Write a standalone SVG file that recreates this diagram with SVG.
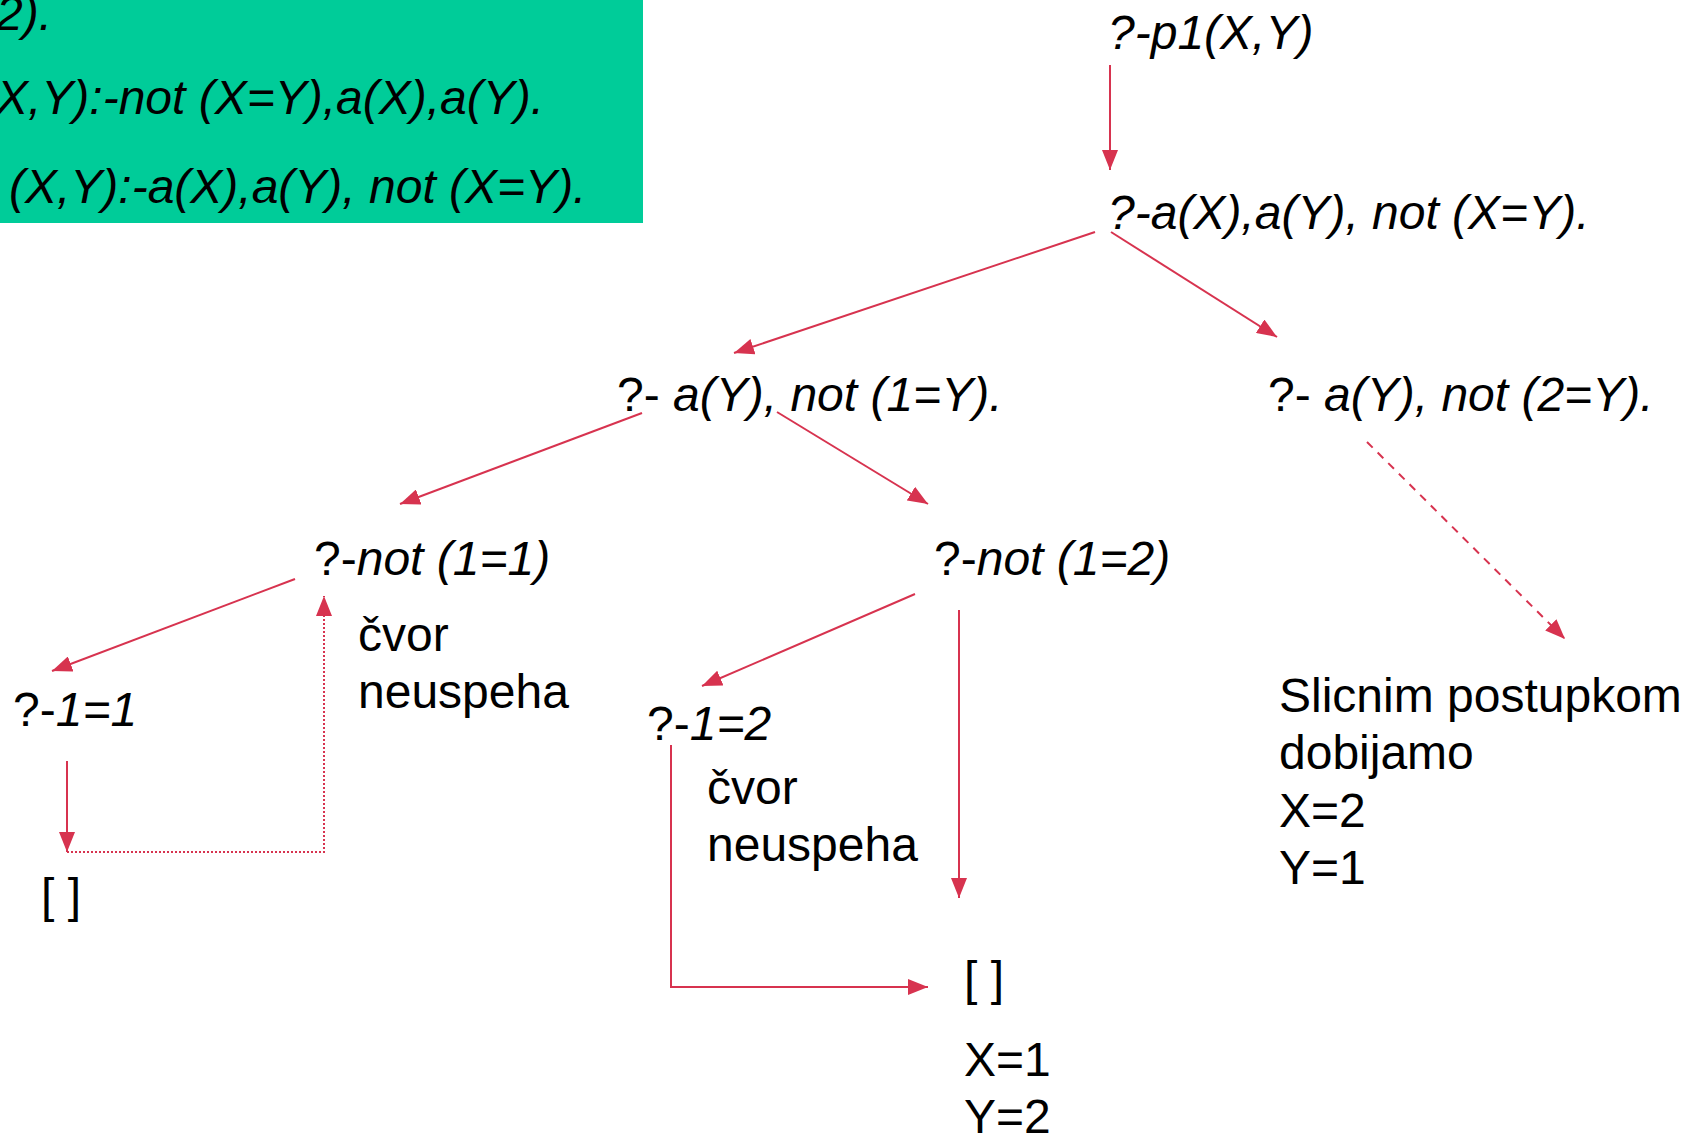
<svg xmlns="http://www.w3.org/2000/svg" width="1692" height="1137" viewBox="0 0 1692 1137">
<defs>
<marker id="ah" markerUnits="userSpaceOnUse" markerWidth="22" markerHeight="16" refX="20" refY="8" orient="auto">
<path d="M0,0 L20,8 L0,16 z" fill="#d7334f"/>
</marker>
<style>
text{font-family:"Liberation Sans",Arial,sans-serif;font-size:48px;fill:#000}
.i{font-style:italic}
.c{fill:none;stroke:#d7334f;stroke-width:2}
.dash{stroke-dasharray:8 7}
.dot{stroke-dasharray:2 2}
</style>
</defs>
<rect x="0" y="0" width="643" height="223" fill="#00cc99"/>
<g id="rules">
<text class="i" x="-4" y="30">2).</text>
<text class="i" x="-4" y="114">X,Y):-not (X=Y),a(X),a(Y).</text>
<text class="i" x="9" y="203">(X,Y):-a(X),a(Y), not (X=Y).</text>
</g>
<g id="connectors">
<line class="c" x1="1110" y1="65" x2="1110" y2="170" marker-end="url(#ah)"/>
<line class="c" x1="1095" y1="232" x2="734" y2="353" marker-end="url(#ah)"/>
<line class="c" x1="1111" y1="232" x2="1277" y2="337" marker-end="url(#ah)"/>
<line class="c" x1="642" y1="413" x2="400" y2="504" marker-end="url(#ah)"/>
<line class="c" x1="777" y1="412" x2="928" y2="504" marker-end="url(#ah)"/>
<line class="c dash" x1="1367" y1="442" x2="1565" y2="639" marker-end="url(#ah)"/>
<line class="c" x1="295" y1="579" x2="52" y2="671" marker-end="url(#ah)"/>
<polyline class="c dot" points="67,852 324,852 324,596" marker-end="url(#ah)"/>
<line class="c" x1="67" y1="761" x2="67" y2="852" marker-end="url(#ah)"/>
<line class="c" x1="915" y1="594" x2="702" y2="686" marker-end="url(#ah)"/>
<line class="c" x1="959" y1="610" x2="959" y2="898" marker-end="url(#ah)"/>
<polyline class="c" points="671,745 671,987 928,987" marker-end="url(#ah)"/>
</g>
<g id="n-root"><text class="i" x="1108" y="49">?-p1(X,Y)</text></g>
<g id="n-goal"><text class="i" x="1108" y="229">?-a(X),a(Y), not (X=Y).</text></g>
<g id="n-left"><text x="617" y="411">?-<tspan class="i"> a(Y), not (1=Y).</tspan></text></g>
<g id="n-right"><text x="1268" y="411">?-<tspan class="i"> a(Y), not (2=Y).</tspan></text></g>
<g id="n-not11"><text x="314" y="575">?-<tspan class="i">not (1=1)</tspan></text></g>
<g id="n-not12"><text x="934" y="575">?-<tspan class="i">not (1=2)</tspan></text></g>
<g id="n-fail1"><text x="358" y="651">čvor</text><text x="358" y="708">neuspeha</text></g>
<g id="n-eq11"><text x="13" y="726">?-<tspan class="i">1=1</tspan></text></g>
<g id="n-empty1"><text x="41" y="912">[ ]</text></g>
<g id="n-eq12"><text x="647" y="740">?-<tspan class="i">1=2</tspan></text></g>
<g id="n-fail2"><text x="707" y="804">čvor</text><text x="707" y="861">neuspeha</text></g>
<g id="n-empty2"><text x="964" y="995">[ ]</text></g>
<g id="n-res1"><text x="964" y="1076">X=1</text><text x="964" y="1133">Y=2</text></g>
<g id="n-res2"><text x="1279" y="712">Slicnim postupkom</text><text x="1279" y="769">dobijamo</text><text x="1279" y="827">X=2</text><text x="1279" y="884">Y=1</text></g>
</svg>
